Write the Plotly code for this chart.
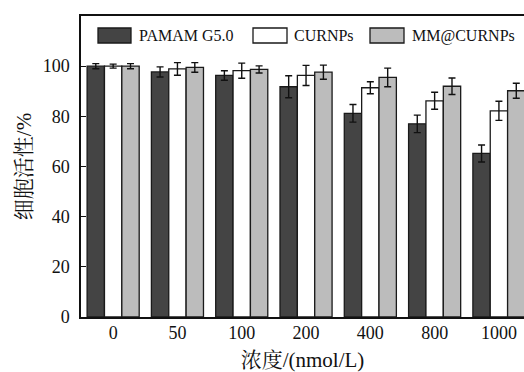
import plotly.graph_objects as go

# Concentrations (nmol/L) and cell viability (%) with error bars
concentrations = ["0", "50", "100", "200", "400", "800", "1000"]

pamam_vals = [100.0, 97.7, 96.3, 91.8, 81.2, 77.0, 65.2]
pamam_err = [1.0, 2.0, 1.9, 4.4, 3.5, 3.5, 3.4]

curnps_vals = [100.0, 98.9, 98.2, 96.3, 91.4, 86.2, 82.2]
curnps_err = [0.8, 2.5, 3.0, 4.0, 2.4, 3.4, 3.8]

mm_vals = [100.0, 99.5, 98.7, 97.6, 95.5, 92.0, 90.2]
mm_err = [1.0, 1.9, 1.4, 2.8, 3.7, 3.3, 3.0]

series_names = ["PAMAM G5.0", "CURNPs", "MM@CURNPs"]
series_fills = ["#444444", "#ffffff", "#bcbcbc"]

W, H = 524, 372
ML, MR, MT, MB = 81, 0, 16, 55
SERIF = "Liberation Serif, Times New Roman, serif"
CJK = "Liberation Serif, Noto Serif CJK SC, Noto Sans CJK SC, serif"

fig = go.Figure()
for name, vals, errs, fill in zip(series_names,
                                  [pamam_vals, curnps_vals, mm_vals],
                                  [pamam_err, curnps_err, mm_err],
                                  series_fills):
    fig.add_trace(go.Bar(
        x=concentrations, y=vals, name=name,
        marker=dict(color=fill, line=dict(color="#1a1a1a", width=1.3)),
        error_y=dict(type="data", array=errs, visible=True,
                     color="#111111", thickness=1.4, width=3.5),
        showlegend=False,
    ))

# Custom legend row across the top of the plot area
pw, ph = W - ML - MR, H - MT - MB


def px_x(x):
    return (x - ML) / pw


def px_y(y):
    return (H - MB - y) / ph


legend_items = [(98, 131, 137), (253, 287, 292), (370, 404, 410)]
shapes = []
annotations = []
for (x0, x1, tx), name, fill in zip(legend_items, series_names, series_fills):
    shapes.append(dict(type="rect", xref="paper", yref="paper",
                       x0=px_x(x0), x1=px_x(x1), y0=px_y(43), y1=px_y(28),
                       fillcolor=fill, line=dict(color="#1a1a1a", width=1.3)))
    annotations.append(dict(xref="paper", yref="paper", x=px_x(tx), y=px_y(35.5),
                            text=name, showarrow=False, xanchor="left", yanchor="middle",
                            font=dict(family=SERIF, size=16, color="#111111")))

fig.update_layout(
    width=W, height=H,
    margin=dict(l=ML, r=MR, t=MT, b=MB, pad=0),
    paper_bgcolor="white", plot_bgcolor="white",
    barmode="group", bargap=0.19, bargroupgap=0.0,
    shapes=shapes, annotations=annotations,
    font=dict(family=SERIF, size=18, color="#111111"),
)

fig.update_xaxes(
    type="category", range=[-0.5, 6.39],
    showline=True, linecolor="#111111", linewidth=1.5, mirror=True,
    ticks="", showgrid=False, zeroline=False,
    tickfont=dict(family=SERIF, size=18, color="#111111"),
    ticklabelstandoff=-1,
    title=dict(text="浓度/(nmol/L)", font=dict(family=CJK, size=21, color="#111111"),
               standoff=11),
)

fig.update_yaxes(
    range=[0, 120], tickvals=[0, 20, 40, 60, 80, 100],
    showline=True, linecolor="#111111", linewidth=1.5, mirror=False,
    ticks="inside", ticklen=5, tickwidth=1.3, tickcolor="#111111",
    showgrid=False, zeroline=False,
    tickfont=dict(family=SERIF, size=18, color="#111111"),
    ticklabelstandoff=6,
    title=dict(text="细胞活性/%", font=dict(family=CJK, size=21, color="#111111"),
               standoff=5),
)

fig.write_html("out.html")
